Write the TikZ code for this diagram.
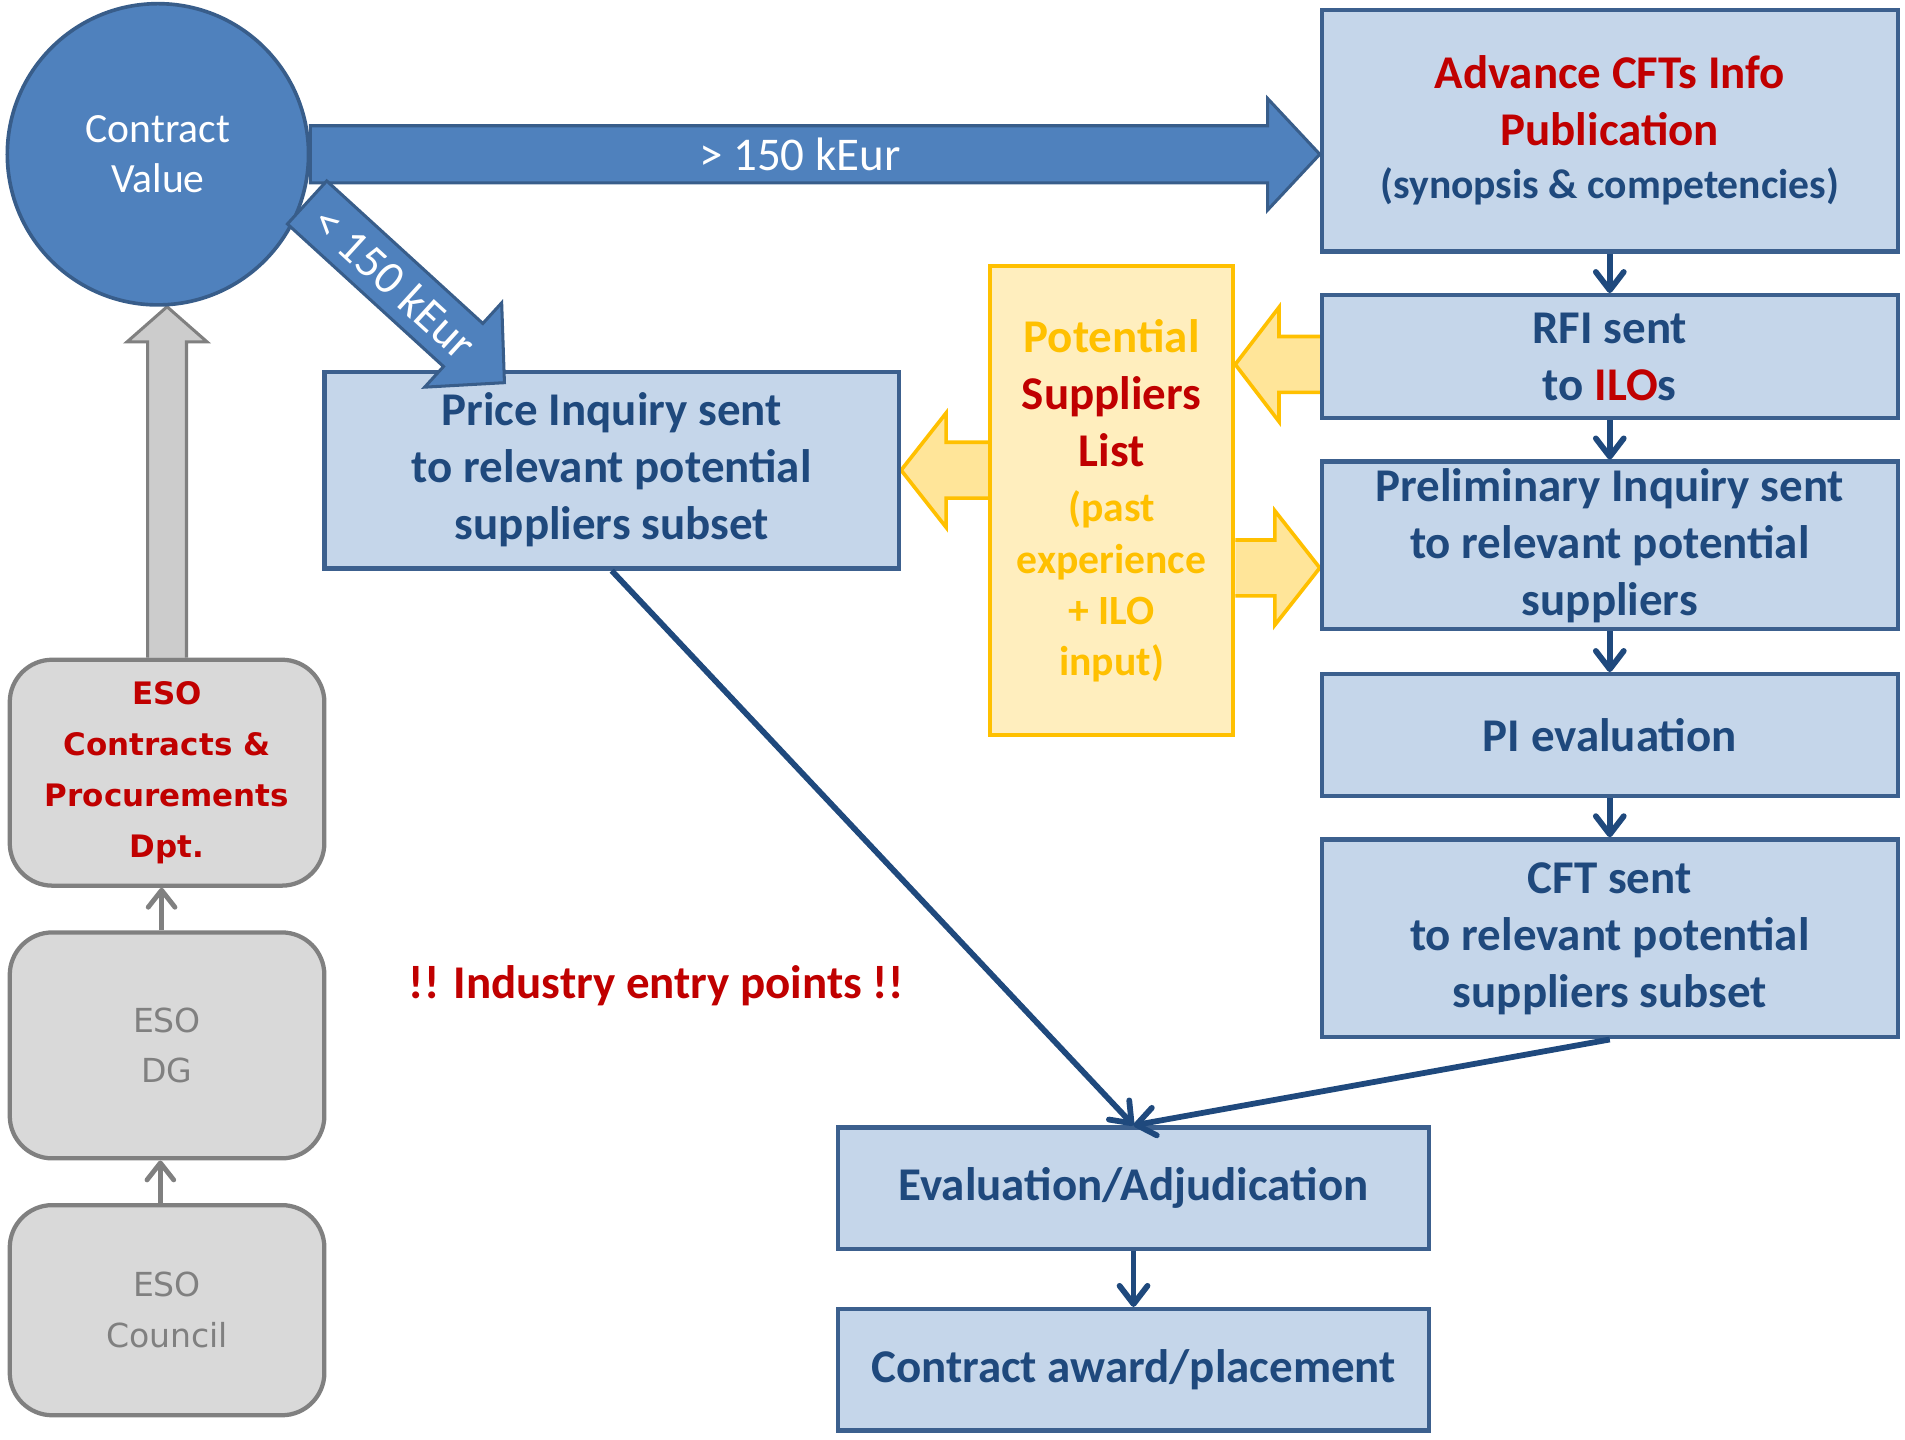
\documentclass[tikz,border=0pt]{standalone}
\usepackage{fontspec}
\setmainfont{Carlito}
\newfontfamily\esofont{DejaVu Sans}
\usetikzlibrary{arrows.meta,calc,positioning,backgrounds}

\definecolor{cvblue}{RGB}{79,129,189}
\definecolor{cvedge}{RGB}{56,93,138}
\definecolor{boxfill}{RGB}{197,214,234}
\definecolor{boxedge}{RGB}{60,96,142}
\definecolor{boxtext}{RGB}{31,73,125}
\definecolor{esored}{RGB}{192,0,0}
\definecolor{listfill}{RGB}{255,238,190}
\definecolor{listarrowfill}{RGB}{255,229,153}
\definecolor{listedge}{RGB}{255,192,0}
\definecolor{orgfill}{RGB}{217,217,217}
\definecolor{orgedge}{RGB}{128,128,128}
\definecolor{uparrowfill}{RGB}{204,204,204}

\begin{document}
\begin{tikzpicture}[x=0.02cm, y=-0.02cm,
        stepbox/.style={draw=boxedge, line width=0.07cm, fill=boxfill, text=boxtext, align=center, inner sep=0pt, minimum width=9.48cm, font=\fontsize{22}{26.7}\selectfont\bfseries},
        orgbox/.style={draw=orgedge, line width=0.07cm, fill=orgfill, rounded corners=0.7cm, align=center, inner sep=0pt, minimum width=5.18cm, text=orgedge, font=\esofont\fontsize{15.5}{23.8}\selectfont},
        link/.style={draw=boxtext, line width=0.095cm, -{Straight Barb[length=0.3cm,width=0.46cm,round]}},
        orglink/.style={draw=orgedge, line width=0.08cm, -{Straight Barb[length=0.28cm,width=0.44cm,round]}},
        bigarrow/.style={draw=cvedge, line width=0.05cm, fill=cvblue},
        listarrow/.style={draw=listedge, line width=0.06cm, fill=listarrowfill},
        uparrow/.style={draw=orgedge, line width=0.05cm, fill=uparrowfill}]

        \useasboundingbox (0,0) rectangle (1568,1185);

        \node[circle, draw=cvedge, line width=0.06cm, fill=cvblue, minimum size=4.96cm, inner sep=0pt, text=white, align=center, font=\fontsize{19.5}{23.2}\selectfont] (cv) at (130,127) {Contract\\Value};

        \node[stepbox, minimum height=3.98cm] (adv) at (1325,107.5) {\textcolor{esored}{Advance CFTs Info}\\\textcolor{esored}{Publication}\\[-2pt]{\fontsize{19.5}{23}\selectfont(synopsis \& competencies)}};
        \node[stepbox, minimum height=2.02cm, anchor=north] (rfi) at ([yshift=-0.65cm]adv.south) {RFI sent\\to \textcolor{esored}{ILO}s};
        \node[stepbox, minimum height=2.76cm, anchor=north] (pinq) at ([yshift=-0.65cm]rfi.south) {Preliminary Inquiry sent\\to relevant potential\\suppliers};
        \node[stepbox, minimum height=2cm, anchor=north] (pieval) at ([yshift=-0.67cm]pinq.south) {PI evaluation};
        \node[stepbox, minimum height=3.26cm, anchor=north] (cft) at ([yshift=-0.65cm]pieval.south) {CFT sent\\to relevant potential\\suppliers subset};

        \node[stepbox, minimum width=9.72cm, minimum height=2cm] (evaladj) at (933,978) {Evaluation/Adjudication};
        \node[stepbox, minimum width=9.72cm, minimum height=2cm, anchor=north] (award) at ([yshift=-0.92cm]evaladj.south) {Contract award/placement};

        \node[stepbox, minimum width=9.46cm, minimum height=3.24cm] (price) at (503.5,387) {Price Inquiry sent\\to relevant potential\\suppliers subset};

        \node[draw=listedge, line width=0.07cm, fill=listfill, minimum width=4cm, minimum height=7.72cm, inner sep=0pt, align=center, text=listedge, font=\fontsize{22}{26.7}\selectfont\bfseries] (psl) at (915,412) {Potential\\\textcolor{esored}{Suppliers}\\\textcolor{esored}{List}\\[-1pt]{\fontsize{19.5}{23.8}\selectfont(past}\\[-2.3pt]{\fontsize{19.5}{23.8}\selectfont experience}\\[-2.8pt]{\fontsize{19.5}{23.8}\selectfont+ ILO}\\[-2.8pt]{\fontsize{19.5}{23.8}\selectfont input)}};

        \node[orgbox, minimum height=3.72cm, text=esored, font=\esofont\bfseries\fontsize{14.5}{23.8}\selectfont] (esocp) at (137.5,636) {ESO\\Contracts \&\\Procurements\\Dpt.};
        \node[orgbox, minimum height=3.72cm, anchor=north] (esodg) at ([yshift=-0.70cm]esocp.south) {ESO\\DG};
        \node[orgbox, minimum height=3.46cm, anchor=north] (esocouncil) at ([yshift=-0.70cm]esodg.south) {ESO\\Council};

        \node[text=esored, font=\fontsize{22}{26.7}\selectfont\bfseries] (entry) at (540,811) {!! Industry entry points !!};

        \coordinate (hightip) at (adv.west |- cv.east);
        \draw[bigarrow] ($(cv.east)+(0,-23.5)$) -- ($(hightip)+(-43,-23.5)$) -- ($(hightip)+(-43,-46)$) -- (hightip) -- ($(hightip)+(-43,46)$) -- ($(hightip)+(-43,23.5)$) -- ($(cv.east)+(0,23.5)$) -- cycle;
        \node[text=white, font=\fontsize{22}{26.7}\selectfont] (highlabel) at ($(cv.east)!0.485!(hightip)$) {> 150 kEur};

        \coordinate (lowstart) at ($(cv.center)+(17.9:129)$);
        \begin{scope}[shift={(lowstart)}, rotate=-42.4]
                \draw[bigarrow] (0,-24) -- (174,-24) -- (174,-47) -- (220,0) -- (174,47) -- (174,24) -- (0,24) -- cycle;
                \node[rotate=-42.4, text=white, font=\fontsize{22}{26.7}\selectfont] (lowlabel) at (98,0) {< 150 kEur};
        \end{scope}

        \begin{scope}[on background layer]
                \coordinate (listtipa) at ($(psl.east |- rfi.west)+(0,6.5)$);
                \draw[listarrow] ($(listtipa -| rfi.west)+(0,-23)$) -- ($(listtipa)+(36,-23)$) -- ($(listtipa)+(36,-47)$) -- (listtipa) -- ($(listtipa)+(36,47)$) -- ($(listtipa)+(36,23)$) -- ($(listtipa -| rfi.west)+(0,23)$);
                \coordinate (listtipb) at (price.east);
                \draw[listarrow] ($(listtipb -| psl.west)+(0,-23)$) -- ($(listtipb)+(37,-23)$) -- ($(listtipb)+(37,-47)$) -- (listtipb) -- ($(listtipb)+(37,47)$) -- ($(listtipb)+(37,23)$) -- ($(listtipb -| psl.west)+(0,23)$);
                \coordinate (listtipc) at ($(pinq.west)+(0,18.5)$);
                \draw[listarrow] ($(listtipc -| psl.east)+(0,-23)$) -- ($(listtipc)+(-37,-23)$) -- ($(listtipc)+(-37,-47)$) -- (listtipc) -- ($(listtipc)+(-37,47)$) -- ($(listtipc)+(-37,23)$) -- ($(listtipc -| psl.east)+(0,23)$);

                \coordinate (uptip) at (esocp.north |- cv.south);
                \draw[uparrow] ($(esocp.north)+(-16,0)$) -- ($(uptip)+(-16,29)$) -- ($(uptip)+(-33,29)$) -- (uptip) -- ($(uptip)+(33,29)$) -- ($(uptip)+(16,29)$) -- ($(esocp.north)+(16,0)$);
        \end{scope}

        \draw[link] (adv) -- (rfi);
        \draw[link] (rfi) -- (pinq);
        \draw[link] (pinq) -- (pieval);
        \draw[link] (pieval) -- (cft);
        \draw[link] (cft.south) -- (evaladj.north);
        \draw[link] (price.south) -- (evaladj.north);
        \draw[link] (evaladj) -- (award);

        \draw[orglink] ([xshift=-0.09cm]esodg.north) -- ([xshift=-0.09cm]esodg.north |- esocp.south);
        \draw[orglink] ([xshift=-0.11cm]esocouncil.north) -- ([xshift=-0.11cm]esocouncil.north |- esodg.south);

    \end{tikzpicture}
\end{document}
